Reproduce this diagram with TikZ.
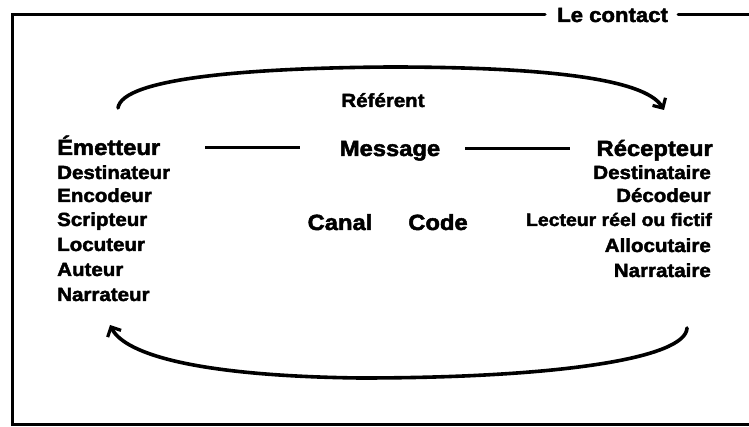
\documentclass[tikz,border=0pt]{standalone}
\usepackage{fontspec}
\usetikzlibrary{arrows.meta}
\newfontfamily\hvb[FakeBold=2.2,FakeStretch=1.08]{Liberation Sans Bold}
\begin{document}
\begin{tikzpicture}[x=1pt,y=-1pt,
  txt/.style={inner sep=0pt,font=\hvb\fontsize{19}{22}\selectfont},
  head/.style={inner sep=0pt,font=\hvb\fontsize{22}{26}\selectfont},
  frame/.style={line width=3pt,line cap=round},
  link/.style={line width=3pt},
  arc/.style={line width=3.6pt,line cap=round,-{Straight Barb[length=7.5pt,width=15pt,line width=3.2pt]}}]
\useasboundingbox (0,0) rectangle (749,427);
% frame
\node[txt,anchor=base west,font=\hvb\fontsize{20.5}{24}\selectfont] (lc) at (557,22) {Le contact};
\coordinate (tl) at (12,15);
\coordinate (bl) at (12,424);
\coordinate (br) at (752,424);
\coordinate (tr) at (752,15);
\draw[frame] ([xshift=-12pt]lc.west|-tl) -- (tl) -- (bl) -- (br);
\draw[frame] ([xshift=10pt]lc.east|-tr) -- (tr);
% left column
\node[head,anchor=base west] (em) at (57,155) {Émetteur};
\node[txt,anchor=base west] (l1) at (57,179) {Destinateur};
\node[txt,anchor=base west] (l2) at (57,202) {Encodeur};
\node[txt,anchor=base west] (l3) at (57,226) {Scripteur};
\node[txt,anchor=base west] (l4) at (57,251) {Locuteur};
\node[txt,anchor=base west] (l5) at (57,276) {Auteur};
\node[txt,anchor=base west] (l6) at (57,301) {Narrateur};
% right column
\node[head,anchor=base east] (rc) at (713,156) {Récepteur};
\node[txt,anchor=base east] (r1) at (711,179) {Destinataire};
\node[txt,anchor=base east] (r2) at (711,202) {Décodeur};
\node[txt,anchor=base east,font=\hvb\fontsize{18}{22}\selectfont] (r3) at (712,226) {Lecteur réel ou fictif};
\node[txt,anchor=base east] (r4) at (711,252) {Allocutaire};
\node[txt,anchor=base east] (r5) at (711,277) {Narrataire};
% centre
\node[txt,anchor=base] (ref) at (383,107) {Référent};
\node[head,anchor=base] (msg) at (390,156) {Message};
\node[head,anchor=base] (can) at (340,230) {Canal};
\node[head,anchor=base] (cod) at (438,230) {Code};
% links
\coordinate (e1) at (205,148);
\coordinate (e2) at (300,148);
\coordinate (e3) at (465,149);
\coordinate (e4) at (570,149);
\draw[link] (e1) -- (e2);
\draw[link] (e3) -- (e4);
% arcs
\coordinate (a0) at (118,108);
\coordinate (a1) at (390,67);
\coordinate (a2) at (664,110);
\draw[arc] (a0) .. controls (122,78) and (250,68) .. (a1) .. controls (540,67) and (645,78) .. (a2);
\coordinate (b0) at (687,328);
\coordinate (b1) at (360,378);
\coordinate (b2) at (110,325);
\draw[arc] (b0) .. controls (686,358) and (560,378) .. (b1) .. controls (200,376) and (125,355) .. (b2);
\end{tikzpicture}
\end{document}
